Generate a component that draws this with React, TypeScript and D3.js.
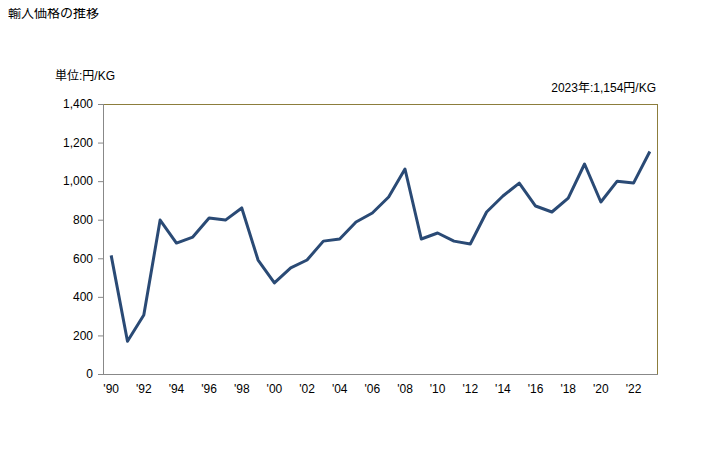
import { useEffect, useRef } from "react";
import * as d3 from "d3";

const years = d3.range(1990, 2024);
const prices = [
  615, 170, 306, 798, 679, 710, 809, 798, 861, 591,
  472, 550, 591, 689, 700, 788, 835, 918, 1063, 700,
  731, 689, 674, 840, 923, 990, 871, 840, 912, 1089,
  892, 1000, 990, 1154,
];
const yTicks = [0, 200, 400, 600, 800, 1000, 1200, 1400];
const title = "輸入価格の推移";
const unitLabel = "単位:円/KG";
const lastNote = "2023年:1,154円/KG";

const W = 728;
const H = 450;
const font = "'Liberation Sans', 'Noto Sans CJK JP', sans-serif";

export default function App() {
  const svgRef = useRef<SVGSVGElement | null>(null);

  useEffect(() => {
    const svgEl = svgRef.current;
    if (!svgEl) return;
    const svg = d3.select(svgEl);
    svg.selectAll("*").remove();

    const margin = { top: 104, right: 70, bottom: 76, left: 103 };
    const innerW = W - margin.left - margin.right;
    const innerH = H - margin.top - margin.bottom;

    const x = d3.scaleBand<number>().domain(years).range([0, innerW]);
    const y = d3.scaleLinear().domain([0, 1400]).range([innerH, 0]);
    const cx = (yr: number) => (x(yr) ?? 0) + x.bandwidth() / 2;

    svg.append("rect").attr("width", W).attr("height", H).attr("fill", "#fff");

    svg.append("text")
      .attr("x", 8).attr("y", 17)
      .attr("font-size", 13).attr("font-family", font).attr("fill", "#000")
      .text(title);

    svg.append("text")
      .attr("x", 55).attr("y", 80)
      .attr("font-size", 12).attr("font-family", font).attr("fill", "#000")
      .text(unitLabel);

    svg.append("text")
      .attr("x", 656).attr("y", 92).attr("text-anchor", "end")
      .attr("font-size", 12).attr("font-family", font).attr("fill", "#000")
      .text(lastNote);

    const g = svg.append("g").attr("transform", `translate(${margin.left},${margin.top})`);

    // frame: top/right olive, left/bottom grey
    g.append("line").attr("x1", 0).attr("x2", innerW).attr("y1", 0.5).attr("y2", 0.5)
      .attr("stroke", "#8c7d3c");
    g.append("line").attr("x1", innerW - 0.5).attr("x2", innerW - 0.5).attr("y1", 0).attr("y2", innerH)
      .attr("stroke", "#8c7d3c");

    const yAxis = g.append("g")
      .call(d3.axisLeft(y).tickValues(yTicks).tickSize(5).tickPadding(5).tickFormat(d3.format(",")));
    yAxis.selectAll("text").attr("font-size", 12).attr("font-family", font).attr("fill", "#000");
    yAxis.selectAll(".tick line").attr("stroke", "#888");
    yAxis.select(".domain").attr("stroke", "#888").attr("d", `M0.5,0V${innerH}`);

    const xAxis = g.append("g")
      .attr("transform", `translate(0,${innerH})`)
      .call(
        d3.axisBottom(x)
          .tickValues(years.filter((yr) => yr % 2 === 0))
          .tickSize(0)
          .tickPadding(10)
          .tickFormat((yr) => `'${String(yr).slice(2)}`)
      );
    xAxis.selectAll("text").attr("font-size", 12).attr("font-family", font).attr("fill", "#000");
    xAxis.select(".domain").attr("stroke", "#888").attr("d", `M0,0.5H${innerW}`);

    const line = d3.line<number>()
      .x((_, i) => cx(years[i]))
      .y((v) => y(v));

    g.append("path")
      .datum(prices)
      .attr("fill", "none")
      .attr("stroke", "#2a4a75")
      .attr("stroke-width", 3)
      .attr("stroke-linejoin", "round")
      .attr("d", line);
  }, []);

  return (
    <div style={{ margin: -8 }}>
      <svg ref={svgRef} width={W} height={H} />
    </div>
  );
}
